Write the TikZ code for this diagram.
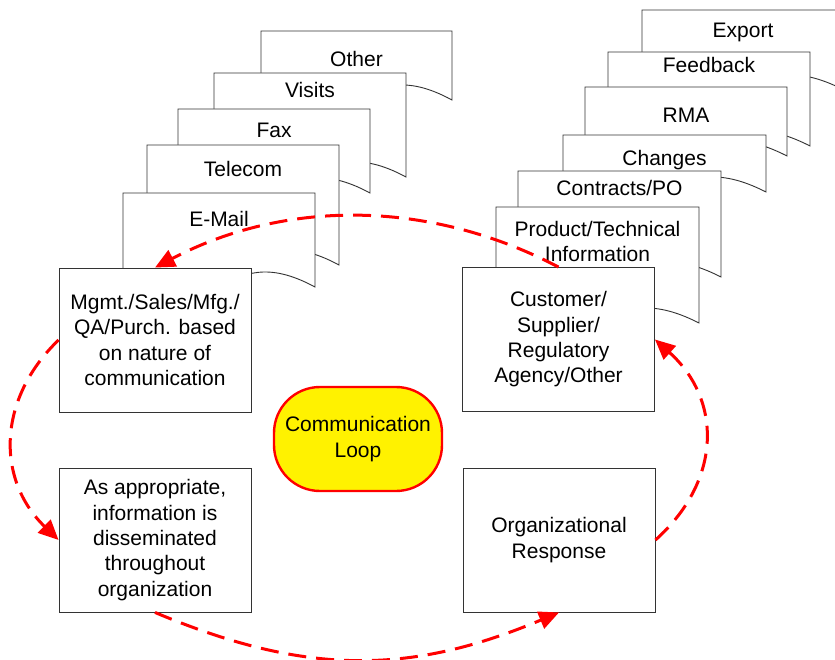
\documentclass[tikz,border=0pt]{standalone}
\usepackage{fontspec}
\setmainfont{Liberation Sans}
\usetikzlibrary{arrows.meta}
\newcommand{\docpage}[7]{%
  \filldraw[docline] (#2,#3) -- (#4,#3) -- (#4,#5)
    .. controls ({(#2+#4)/2},{#5-52}) and ({(#2+#4)/2},{#5+52}) .. (#2,#5) -- cycle;
  \node[doctext] (#1) at ({(#2+#4)/2},#6) {#7};
}
\begin{document}
\begin{tikzpicture}[x=1pt,y=-1pt,
    every node/.style={font=\fontsize{21}{25.3}\selectfont},
    docline/.style={draw=black!80,fill=white,line width=0.9pt},
    doctext/.style={anchor=base,align=center,inner sep=0pt},
    stepbox/.style={draw=black!80,fill=white,line width=0.9pt,minimum width=192pt,minimum height=144pt,align=center},
    loopnode/.style={draw=red,fill=yellow,line width=2.4pt,rounded corners=46pt,minimum width=168pt,minimum height=104pt,align=center},
    loopflow/.style={draw=red,line width=3pt,dash pattern=on 18pt off 10pt,-{Triangle[length=20pt,width=18pt]}}]
      \useasboundingbox (0,0) rectangle (835,660);
      \fill[white] (0,0) rectangle (835,660);
      \docpage{other}{261}{31}{452}{100}{67}{Other}
      \docpage{visits}{214}{73}{406}{177}{98}{Visits}
      \docpage{fax}{178}{109}{370}{193}{138}{Fax}
      \docpage{telecom}{147}{145}{339}{265}{177}{Telecom}
      \docpage{email}{123}{193}{315}{287}{227}{E-Mail}
      \docpage{export}{642}{10}{844}{90}{38}{Export}
      \docpage{feedback}{608}{52}{810}{146}{73}{Feedback}
      \docpage{rma}{585}{87}{787}{156}{123}{RMA}
      \docpage{changes}{563}{135}{766}{192}{166}{Changes}
      \docpage{contracts}{518}{171}{721}{277}{196}{Contracts/PO}
      \docpage{product}{496}{207}{699}{323}{262}{Product/Technical\\Information}
      \node[stepbox] (mgmt) at (155,340) {Mgmt./Sales/Mfg./\\QA/Purch. based\\on nature of\\communication};
      \node[stepbox] (app) at (155,540) {As appropriate,\\information is\\disseminated\\throughout\\organization};
      \node[stepbox] (cust) at (558.5,339.5) {Customer/\\Supplier/\\Regulatory\\Agency/Other};
      \node[stepbox] (org) at (559,540) {Organizational\\Response};
      \node[loopnode] (loop) at (358,439) {Communication\\Loop};
      \draw[loopflow] (cust.north) .. controls +(-130,-68) and +(130,-68) .. (mgmt.north);
      \draw[loopflow] (mgmt.west) .. controls +(-62,60) and +(-62,-60) .. (app.west);
      \draw[loopflow] (app.south) .. controls +(150,63) and +(-150,63) .. (org.south);
      \draw[loopflow] (org.east) .. controls +(67,-60) and +(67,60) .. (cust.east);
\end{tikzpicture}
\end{document}
